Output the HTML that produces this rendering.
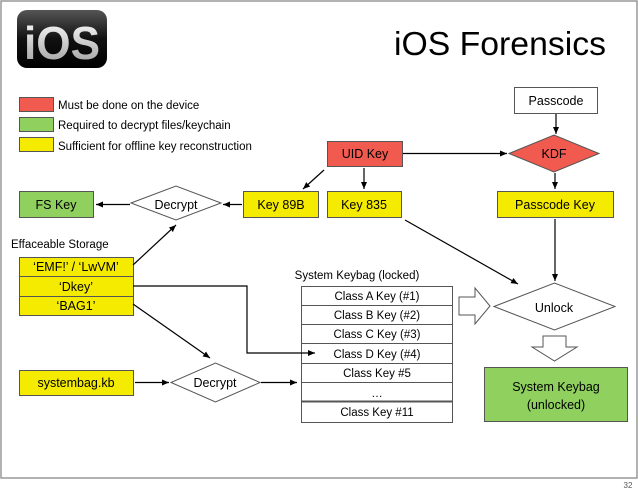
<!DOCTYPE html>
<html><head><style>
body{margin:0;width:638px;height:491px;background:#fff;overflow:hidden;font-family:"Liberation Sans",sans-serif;}
</style></head><body>
<svg width="638" height="491" xmlns="http://www.w3.org/2000/svg" font-family="Liberation Sans, sans-serif">
<defs>
<marker id="a" markerWidth="8" markerHeight="8" refX="7" refY="4" orient="auto" markerUnits="userSpaceOnUse"><path d="M0,1 L7,4 L0,7 Z" fill="#000"/></marker>
<linearGradient id="g" x1="0" y1="0" x2="0" y2="1"><stop offset="0" stop-color="#555"/><stop offset="0.5" stop-color="#111"/><stop offset="1" stop-color="#000"/></linearGradient>
<linearGradient id="t" x1="0" y1="0" x2="0" y2="1"><stop offset="0" stop-color="#fff"/><stop offset="1" stop-color="#999"/></linearGradient>
</defs>
<rect x="1" y="1" width="636" height="477" fill="none" stroke="#999" stroke-width="1.5"/>
<text x="628" y="488" font-size="8" fill="#555" text-anchor="middle">32</text>
<rect x="17" y="10" width="90" height="58" rx="10" fill="url(#g)"/>
<text x="62" y="59" font-size="46" fill="url(#t)" text-anchor="middle" font-weight="bold" textLength="76" lengthAdjust="spacingAndGlyphs">iOS</text>
<text x="500" y="55" font-size="33" text-anchor="middle" textLength="212" lengthAdjust="spacingAndGlyphs">iOS Forensics</text>
<g font-size="11.5">
<rect x="19.5" y="97.5" width="34" height="14" fill="#f05a4f" stroke="#555"/>
<rect x="19.5" y="117.5" width="34" height="14" fill="#8fd05f" stroke="#555"/>
<rect x="19.5" y="137.5" width="34" height="14" fill="#f5eb00" stroke="#555"/>
<text x="58" y="109">Must be done on the device</text>
<text x="58" y="129">Required to decrypt files/keychain</text>
<text x="58" y="150">Sufficient for offline key reconstruction</text>
</g>
<g stroke="#555" font-size="12.5" text-anchor="middle">
<rect x="514.5" y="87.5" width="83" height="26" fill="#fff"/>
<rect x="327.5" y="141.5" width="75" height="25" fill="#f05a4f"/>
<polygon points="509,153.5 554,135 599,153.5 554,172" fill="#f05a4f"/>
<rect x="19.5" y="191.5" width="74" height="26" fill="#8fd05f"/>
<polygon points="131,203 176,186 221,203 176,220" fill="#fff"/>
<rect x="243.5" y="191.5" width="75" height="26" fill="#f5eb00"/>
<rect x="327.5" y="191.5" width="74" height="26" fill="#f5eb00"/>
<rect x="497.5" y="191.5" width="116" height="26" fill="#f5eb00"/>
<rect x="19.5" y="257.5" width="114" height="58" fill="#f5eb00"/>
<line x1="19" y1="276.5" x2="133" y2="276.5"/><line x1="19" y1="296.5" x2="133" y2="296.5"/>
<rect x="19.5" y="370.5" width="114" height="25" fill="#f5eb00"/>
<polygon points="171,382.5 215.5,363 260,382.5 215.5,402" fill="#fff"/>
<rect x="301.5" y="286.5" width="151" height="136" fill="#fff"/>
<line x1="301" y1="305.5" x2="452" y2="305.5"/><line x1="301" y1="324.5" x2="452" y2="324.5"/>
<line x1="301" y1="343.5" x2="452" y2="343.5"/><line x1="301" y1="363.5" x2="452" y2="363.5"/>
<line x1="301" y1="382.5" x2="452" y2="382.5"/><line x1="301" y1="401.5" x2="452" y2="401.5" stroke-width="2"/>
<polygon points="494,306.5 554.5,283 615,306.5 554.5,330" fill="#fff"/>
<polygon points="459,297 475,297 475,288 490,306 475,324 475,315 459,315" fill="#fff"/>
<polygon points="543,336 566,336 566,347 577,347 554.5,361 532,347 543,347" fill="#fff"/>
<rect x="484.5" y="367.5" width="143" height="54" fill="#8fd05f"/>
</g>
<g font-size="12.5" text-anchor="middle">
<text x="556" y="105">Passcode</text>
<text x="365" y="158">UID Key</text>
<text x="554" y="158">KDF</text>
<text x="56" y="209">FS Key</text>
<text x="176" y="209">Decrypt</text>
<text x="281" y="209">Key 89B</text>
<text x="364" y="209">Key 835</text>
<text x="555" y="209">Passcode Key</text>
<text x="76" y="271">‘EMF!’ / ‘LwVM’</text>
<text x="76" y="291">‘Dkey’</text>
<text x="76" y="310">‘BAG1’</text>
<text x="76" y="387">systembag.kb</text>
<text x="215" y="387">Decrypt</text>
<text x="554" y="312">Unlock</text>
<text x="556" y="391">System Keybag</text>
<text x="556" y="409">(unlocked)</text>
</g>
<g font-size="11.5" text-anchor="middle">
<text x="377" y="300">Class A Key (#1)</text>
<text x="377" y="319">Class B Key (#2)</text>
<text x="377" y="338">Class C Key (#3)</text>
<text x="377" y="358">Class D Key (#4)</text>
<text x="377" y="377">Class Key #5</text>
<text x="377" y="397">…</text>
<text x="377" y="416">Class Key #11</text>
<text x="357" y="279">System Keybag (locked)</text>
</g>
<text x="11" y="248" font-size="11.5">Effaceable Storage</text>
<g stroke="#000" stroke-width="1.2" fill="none" marker-end="url(#a)">
<line x1="556" y1="114" x2="556" y2="134"/>
<line x1="403" y1="153.5" x2="507" y2="153.5"/>
<line x1="324" y1="170" x2="303" y2="189"/>
<line x1="364" y1="168" x2="364" y2="189"/>
<line x1="555" y1="173" x2="555" y2="189"/>
<line x1="555" y1="219" x2="555" y2="281"/>
<line x1="405" y1="220" x2="518" y2="284"/>
<line x1="242" y1="204.5" x2="223" y2="204.5"/>
<line x1="130" y1="204.5" x2="96" y2="204.5"/>
<line x1="133" y1="265" x2="176" y2="225"/>
<line x1="133" y1="304" x2="210" y2="358"/>
<polyline points="133,286 247,286 247,353 315,353"/>
<line x1="135" y1="382.5" x2="169" y2="382.5"/>
<line x1="261" y1="382.5" x2="297" y2="382.5"/>
</g>
</svg>
</body></html>
